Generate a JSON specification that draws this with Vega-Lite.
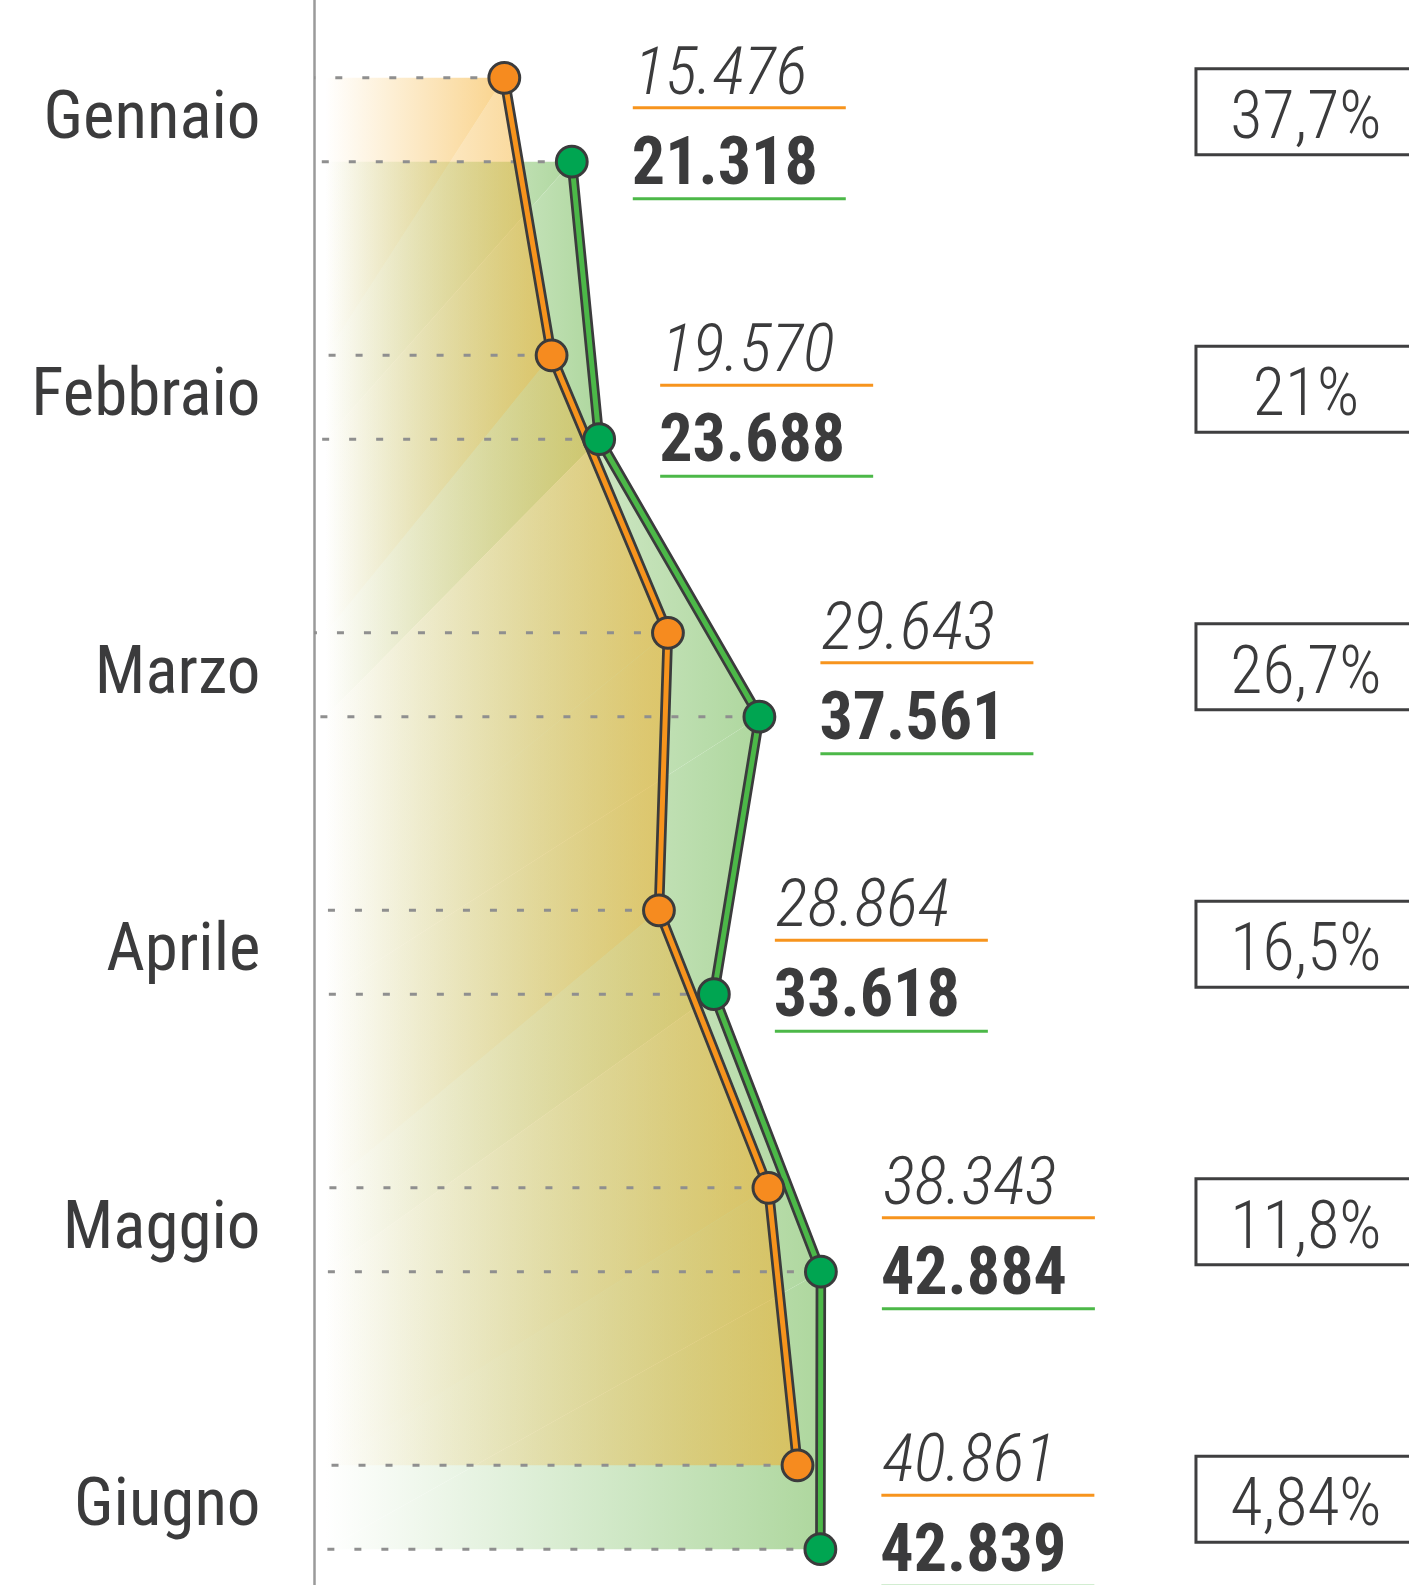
{
  "$schema": "https://vega.github.io/schema/vega-lite/v6.json",
  "width": 1095,
  "height": 1569,
  "autosize": {"type": "none"},
  "padding": {"left": 314, "top": 16, "right": 0, "bottom": 0},
  "background": "white",
  "config": {
    "view": {"stroke": null},
    "locale": {"number": {"decimal": ",", "thousands": ".", "grouping": [3], "currency": ["", " €"]}},
    "axis": {"grid": false},
    "axisY": {
      "domain": true,
      "domainColor": "#9a9a9a",
      "domainWidth": 2.5,
      "ticks": false,
      "labelFont": "Roboto Condensed, Liberation Sans Narrow, Arial Narrow, Roboto, sans-serif",
      "labelFontSize": 67,
      "labelColor": "#3b3b3c",
      "labelBaseline": "alphabetic",
      "labelOffset": 18,
      "labelPadding": 54,
      "labelLimit": 0
    }
  },
  "data": {
    "values": [
      {"mese": "Gennaio", "n": 1, "a": 15476, "b": 21318, "pct": "37,7%"},
      {"mese": "Febbraio", "n": 2, "a": 19570, "b": 23688, "pct": "21%"},
      {"mese": "Marzo", "n": 3, "a": 29643, "b": 37561, "pct": "26,7%"},
      {"mese": "Aprile", "n": 4, "a": 28864, "b": 33618, "pct": "16,5%"},
      {"mese": "Maggio", "n": 5, "a": 38343, "b": 42884, "pct": "11,8%"},
      {"mese": "Giugno", "n": 6, "a": 40861, "b": 42839, "pct": "4,84%"}
    ]
  },
  "layer": [
    {
      "mark": {"type": "area", "orient": "horizontal", "opacity": 1, "color": {"gradient": "linear", "x1": 0, "y1": 0, "x2": 1, "y2": 0, "stops": [{"offset": 0, "color": "#ffffff"}, {"offset": 1, "color": "#aed79e"}]}},
      "encoding": {
        "y": {"field": "mese", "type": "nominal", "title": null, "bandPosition": 0.651, "scale": {"type": "band", "domain": ["Gennaio", "Febbraio", "Marzo", "Aprile", "Maggio", "Giugno"], "range": [-35, 1630], "paddingInner": 0, "paddingOuter": 0}},
        "x": {"field": "b", "type": "quantitative", "axis": null, "scale": {"domain": [-1000, 93800], "zero": false, "nice": false}},
        "order": {"field": "n", "type": "quantitative"}
      }
    },
    {
      "mark": {"type": "area", "orient": "horizontal", "opacity": 1, "color": {"gradient": "linear", "x1": 0, "y1": 0, "x2": 1, "y2": 0, "stops": [{"offset": 0, "color": "rgba(245,175,45,0)"}, {"offset": 1, "color": "rgba(245,175,45,0.55)"}]}},
      "encoding": {
        "y": {"field": "mese", "type": "nominal", "title": null, "bandPosition": 0.349},
        "x": {"field": "a", "type": "quantitative", "axis": null},
        "order": {"field": "n", "type": "quantitative"}
      }
    },
    {
      "mark": {"type": "rule", "stroke": "#8f8f8f", "strokeWidth": 3, "strokeDash": [7, 20]},
      "encoding": {
        "y": {"field": "mese", "type": "nominal", "title": null, "bandPosition": 0.349},
        "x": {"field": "a", "type": "quantitative", "axis": null},
        "x2": {"datum": -1000}
      }
    },
    {
      "mark": {"type": "rule", "stroke": "#8f8f8f", "strokeWidth": 3, "strokeDash": [7, 20]},
      "encoding": {
        "y": {"field": "mese", "type": "nominal", "title": null, "bandPosition": 0.651},
        "x": {"field": "b", "type": "quantitative", "axis": null},
        "x2": {"datum": -1000}
      }
    },
    {
      "mark": {"type": "line", "stroke": "#3b3b3c", "strokeWidth": 10.5, "strokeJoin": "round"},
      "encoding": {
        "y": {"field": "mese", "type": "nominal", "title": null, "bandPosition": 0.349},
        "x": {"field": "a", "type": "quantitative", "axis": null},
        "order": {"field": "n", "type": "quantitative"}
      }
    },
    {
      "mark": {"type": "line", "stroke": "#f7941d", "strokeWidth": 5, "strokeJoin": "round"},
      "encoding": {
        "y": {"field": "mese", "type": "nominal", "title": null, "bandPosition": 0.349},
        "x": {"field": "a", "type": "quantitative", "axis": null},
        "order": {"field": "n", "type": "quantitative"}
      }
    },
    {
      "mark": {"type": "line", "stroke": "#3b3b3c", "strokeWidth": 10.5, "strokeJoin": "round"},
      "encoding": {
        "y": {"field": "mese", "type": "nominal", "title": null, "bandPosition": 0.651},
        "x": {"field": "b", "type": "quantitative", "axis": null},
        "order": {"field": "n", "type": "quantitative"}
      }
    },
    {
      "mark": {"type": "line", "stroke": "#4cb848", "strokeWidth": 5, "strokeJoin": "round"},
      "encoding": {
        "y": {"field": "mese", "type": "nominal", "title": null, "bandPosition": 0.651},
        "x": {"field": "b", "type": "quantitative", "axis": null},
        "order": {"field": "n", "type": "quantitative"}
      }
    },
    {
      "mark": {"type": "circle", "size": 950, "fill": "#f68b1f", "stroke": "#3b3b3c", "strokeWidth": 3, "opacity": 1},
      "encoding": {
        "y": {"field": "mese", "type": "nominal", "title": null, "bandPosition": 0.349},
        "x": {"field": "a", "type": "quantitative", "axis": null}
      }
    },
    {
      "mark": {"type": "circle", "size": 950, "fill": "#00a551", "stroke": "#3b3b3c", "strokeWidth": 3, "opacity": 1},
      "encoding": {
        "y": {"field": "mese", "type": "nominal", "title": null, "bandPosition": 0.651},
        "x": {"field": "b", "type": "quantitative", "axis": null}
      }
    },
    {
      "mark": {"type": "text", "align": "left", "baseline": "alphabetic", "dx": 62, "dy": 16, "font": "Roboto Condensed, Liberation Sans Narrow, Arial Narrow, Roboto, sans-serif", "fontStyle": "italic", "fontWeight": 300, "fontSize": 67, "fill": "#3b3b3c"},
      "encoding": {
        "y": {"field": "mese", "type": "nominal", "title": null, "bandPosition": 0.349},
        "x": {"field": "b", "type": "quantitative", "axis": null},
        "text": {"field": "a", "type": "quantitative", "format": ",d"}
      }
    },
    {
      "mark": {"type": "text", "align": "left", "baseline": "alphabetic", "dx": 60, "dy": 22, "font": "Roboto Condensed, Liberation Sans Narrow, Arial Narrow, Roboto, sans-serif", "fontWeight": "bold", "fontSize": 66, "fill": "#3b3b3c"},
      "encoding": {
        "y": {"field": "mese", "type": "nominal", "title": null, "bandPosition": 0.651},
        "x": {"field": "b", "type": "quantitative", "axis": null},
        "text": {"field": "b", "type": "quantitative", "format": ",d"}
      }
    },
    {
      "mark": {"type": "rule", "stroke": "#f7941d", "strokeWidth": 3, "xOffset": 61, "x2Offset": 274, "yOffset": 30},
      "encoding": {
        "y": {"field": "mese", "type": "nominal", "title": null, "bandPosition": 0.349},
        "x": {"field": "b", "type": "quantitative", "axis": null},
        "x2": {"field": "b"}
      }
    },
    {
      "mark": {"type": "rule", "stroke": "#4cb848", "strokeWidth": 3, "xOffset": 61, "x2Offset": 274, "yOffset": 37},
      "encoding": {
        "y": {"field": "mese", "type": "nominal", "title": null, "bandPosition": 0.651},
        "x": {"field": "b", "type": "quantitative", "axis": null},
        "x2": {"field": "b"}
      }
    },
    {
      "mark": {"type": "rect", "height": 86, "yOffset": -8, "fill": "white", "stroke": "#3f3f40", "strokeWidth": 3},
      "encoding": {
        "y": {"field": "mese", "type": "nominal", "title": null},
        "x": {"datum": 75357, "type": "quantitative", "axis": null},
        "x2": {"datum": 100000}
      }
    },
    {
      "mark": {"type": "text", "align": "center", "baseline": "alphabetic", "dy": 18, "font": "Roboto Condensed, Liberation Sans Narrow, Arial Narrow, Roboto, sans-serif", "fontWeight": 300, "fontSize": 66, "fill": "#3b3b3c"},
      "encoding": {
        "y": {"field": "mese", "type": "nominal", "title": null, "bandPosition": 0.5},
        "x": {"datum": 84880, "type": "quantitative", "axis": null},
        "text": {"field": "pct", "type": "nominal"}
      }
    }
  ]
}
